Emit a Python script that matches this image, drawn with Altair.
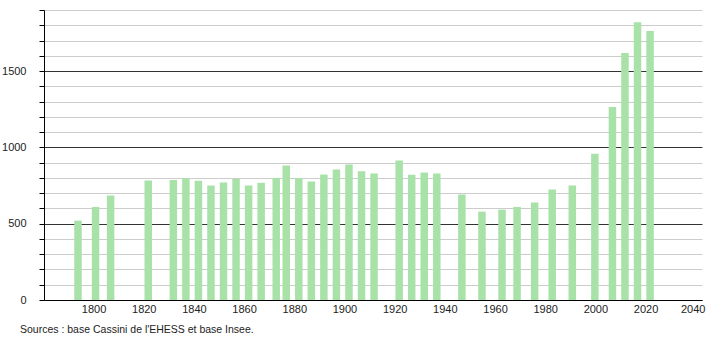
import altair as alt
import pandas as pd

years = [1793, 1800, 1806, 1821, 1831, 1836, 1841, 1846, 1851, 1856, 1861, 1866,
         1872, 1876, 1881, 1886, 1891, 1896, 1901, 1906, 1911, 1921, 1926, 1931,
         1936, 1946, 1954, 1962, 1968, 1975, 1982, 1990, 1999, 2006, 2011, 2016, 2021]
population = [520, 610, 684, 783, 787, 798, 781, 750, 770, 794, 750, 768,
              800, 882, 800, 776, 822, 855, 888, 844, 829, 914, 820, 835,
              829, 691, 579, 592, 610, 638, 724, 750, 958, 1265, 1618, 1820, 1763]

x_ticks = list(range(1800, 2041, 20))
y_ticks = list(range(0, 1901, 100))
source_text = "Sources : base Cassini de l'EHESS et base Insee."

df = pd.DataFrame({"year": years, "pop": population})

FONT = "Liberation Sans"

bars = alt.Chart(df).mark_bar(size=7.5, color="#a9e2a9").encode(
    x=alt.X("year:Q",
            scale=alt.Scale(domain=[1779.45, 2041.7], nice=False, zero=False, padding=0),
            axis=alt.Axis(values=x_ticks, title=None, grid=False, ticks=False,
                          domainColor="#000", labelFont=FONT, labelFontSize=11,
                          labelColor="#222", labelPadding=3, format="d",
                          labelOffset={"condition": {"test": "datum.value >= 2040", "value": -5},
                                       "value": -2})),
    y=alt.Y("pop:Q",
            scale=alt.Scale(domain=[0, 1900], nice=False),
            axis=alt.Axis(values=y_ticks, title=None, grid=True,
                          gridColor={"condition": {"test": "datum.value % 500 === 0", "value": "#333333"},
                                     "value": "#cccccc"},
                          gridWidth=1, domainColor="#000", tickColor="#000", tickSize=5,
                          labelExpr="datum.value % 500 === 0 ? datum.label : ''",
                          labelFont=FONT, labelFontSize=11, labelColor="#222",
                          labelPadding=13, format="d")),
)

source = alt.Chart(pd.DataFrame({"t": [source_text]})).mark_text(
    font=FONT, fontSize=10.5, align="left", baseline="middle", color="#222"
).encode(x=alt.value(-24), y=alt.value(320), text="t:N")

chart = alt.layer(bars, source).properties(
    width=658, height=290,
    autosize=alt.AutoSizeParams(type="none"),
    padding={"left": 44, "top": 10, "right": 8, "bottom": 40},
).configure_view(stroke=None)

chart.save("out.html", embed_options={"renderer": "svg", "actions": False})
